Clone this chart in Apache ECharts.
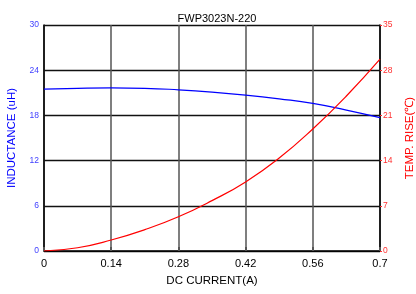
<!DOCTYPE html>
<html>
<head>
<meta charset="utf-8">
<script src="https://cdn.jsdelivr.net/npm/echarts@6/dist/echarts.min.js"></script>
<style>
  html, body { margin: 0; padding: 0; background: #fff; }
  #chart { width: 416px; height: 294px; }
</style>
</head>
<body>
<div id="chart"></div>
<script>
// values
const current = [0, 0.07, 0.14, 0.21, 0.28, 0.35, 0.42, 0.49, 0.56, 0.63, 0.7]
const inductance = [21.5, 21.6, 21.65, 21.6, 21.4, 21.1, 20.7, 20.2, 19.6, 18.7, 17.7]
const tempRise = [0, 0.5, 1.7, 3.3, 5.3, 7.8, 10.7, 14.4, 18.9, 24.0, 29.7]

const FONT = 'Liberation Sans, Arial, sans-serif'
const chart = echarts.init(document.getElementById('chart'))

chart.setOption({
  animation: false,
  title: {
    text: 'FWP3023N-220',
    left: 212,
    textAlign: 'center',
    top: 8,
    textStyle: { fontSize: 11, fontWeight: 'normal', color: '#000', fontFamily: FONT }
  },
  grid: { left: 44, right: 36, top: 25, bottom: 43, outerBoundsMode: 'none', containLabel: false },
  xAxis: {
    type: 'value',
    min: 0,
    max: 0.7,
    interval: 0.14,
    name: 'DC CURRENT(A)',
    nameLocation: 'middle',
    nameGap: 24,
    nameTextStyle: { fontSize: 11.5, color: '#000', fontFamily: FONT },
    axisLine: { lineStyle: { color: '#000', width: 1.5 } },
    axisTick: { inside: true, length: 4, lineStyle: { color: '#555', width: 2 } },
    axisLabel: { fontSize: 11, color: '#000', margin: 7, fontFamily: FONT },
    splitLine: { show: true, lineStyle: { color: '#555', width: 1.5 } }
  },
  yAxis: [
    {
      type: 'value',
      min: 0,
      max: 30,
      interval: 6,
      name: 'INDUCTANCE (uH)',
      nameLocation: 'middle',
      nameGap: 26,
      nameTextStyle: { fontSize: 11.5, color: '#0000ff', fontFamily: FONT },
      axisLine: { show: true, lineStyle: { color: '#000', width: 1.5 } },
      axisTick: { show: false },
      axisLabel: { fontSize: 8.5, color: '#4040ff', margin: 5, fontFamily: FONT },
      splitLine: { show: true, lineStyle: { color: '#111', width: 1.3 } }
    },
    {
      type: 'value',
      min: 0,
      max: 35,
      interval: 7,
      name: 'TEMP. RISE(\u2103)',
      nameLocation: 'middle',
      nameGap: 24,
      nameTextStyle: { fontSize: 11.5, color: '#ff0000', fontFamily: FONT },
      axisLine: { show: true, lineStyle: { color: '#000', width: 1.5 } },
      axisTick: { show: true, length: 2, lineStyle: { color: '#ff3030', width: 1 } },
      axisLabel: { fontSize: 8.5, color: '#ff3030', margin: 3, fontFamily: FONT },
      splitLine: { show: false }
    }
  ],
  series: [
    {
      name: 'Inductance',
      type: 'line',
      yAxisIndex: 0,
      smooth: true,
      symbol: 'none',
      lineStyle: { color: '#0000ff', width: 1.2 },
      data: current.map((x, i) => [x, inductance[i]])
    },
    {
      name: 'Temp rise',
      type: 'line',
      yAxisIndex: 1,
      smooth: true,
      symbol: 'none',
      lineStyle: { color: '#ff0000', width: 1.2 },
      data: current.map((x, i) => [x, tempRise[i]])
    }
  ]
})
</script>
</body>
</html>
